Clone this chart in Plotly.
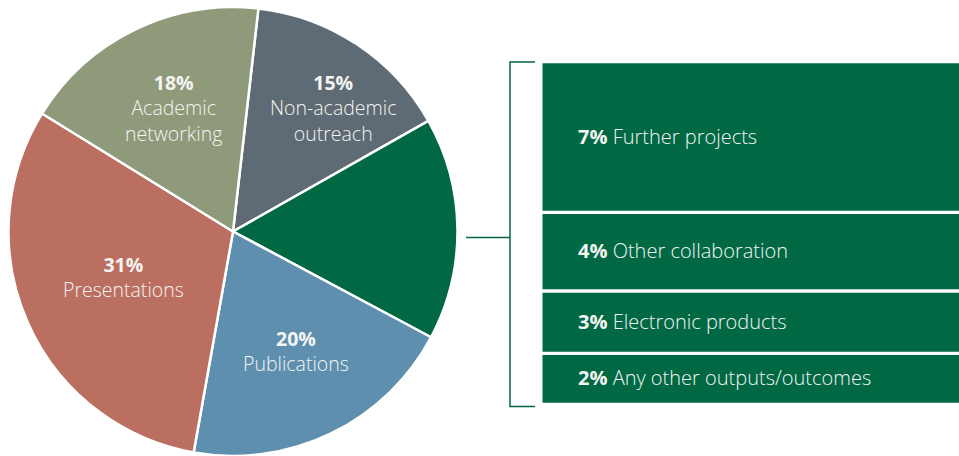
import plotly.graph_objects as go

# ---- data ----
slice_labels = ["Non-academic outreach", "Other outputs", "Publications", "Presentations", "Academic networking"]
slice_values = [15, 16, 20, 31, 18]
slice_colors = ["#5f6b74", "#006944", "#5e8fae", "#bb6f60", "#8e9a7a"]
slice_text = ["<b>15%</b><br>Non-academic<br>outreach", "", "<b>20%</b><br>Publications",
              "<b>31%</b><br>Presentations", "<b>18%</b><br>Academic<br>networking"]

sub_values = [7, 4, 3, 2]
sub_labels = ["Further projects", "Other collaboration", "Electronic products", "Any other outputs/outcomes"]

W, H = 959, 456
GREEN = "#006944"
FONT = "Open Sans"

def px(x):
    return x / W

def py(y):
    return 1 - y / H

fig = go.Figure()
fig.add_trace(go.Pie(
    labels=slice_labels, values=slice_values, sort=False, direction="clockwise",
    rotation=6.5, marker=dict(colors=slice_colors, line=dict(color="white", width=2.5)),
    textinfo="none", hoverinfo="label+percent", showlegend=False,
    domain=dict(x=[px(7.5), px(458.5)], y=[0, py(7)]),
))

# pie labels (positions in pixels of label block centres)
label_pos = [(333, 108), None, (296, 351), (123, 277), (173, 108)]
anns = []
for t, pos in zip(slice_text, label_pos):
    if pos is None:
        continue
    anns.append(dict(x=px(pos[0]), y=py(pos[1]), xref="paper", yref="paper",
                     text=t, showarrow=False, xanchor="center", yanchor="middle",
                     align="center", font=dict(family=FONT, size=19.5, color="#f4f4f2", weight=300)))

# right-hand boxes
box_rows = [(63.3, 210.7), (214, 289.3), (292.7, 351.7), (355, 402.7)]
shapes = []
for (y0, y1), v, lab in zip(box_rows, sub_values, sub_labels):
    shapes.append(dict(type="rect", xref="paper", yref="paper", x0=px(542.5), x1=1.01,
                       y0=py(y1), y1=py(y0), fillcolor=GREEN, line=dict(width=0), layer="below"))
    anns.append(dict(x=px(576), y=py((y0 + y1) / 2 - 1), xref="paper", yref="paper",
                     text=f"<b>{v}%</b> {lab}", showarrow=False, xanchor="left", yanchor="middle",
                     font=dict(family=FONT, size=20, color="#f4f4f2", weight=300)))

# bracket
bracket_path = (f"M {px(466)},{py(237.5)} L {px(510)},{py(237.5)} "
                f"M {px(535)},{py(62)} L {px(510)},{py(62)} L {px(510)},{py(406.5)} L {px(535)},{py(406.5)}")
shapes.append(dict(type="path", xref="paper", yref="paper", path=bracket_path,
                   line=dict(color=GREEN, width=1.5)))

fig.update_layout(
    width=W, height=H, margin=dict(l=0, r=0, t=0, b=0),
    paper_bgcolor="white", plot_bgcolor="white",
    shapes=shapes, annotations=anns,
    font=dict(family=FONT),
)

fig.write_html("out.html", config={"displayModeBar": False},
               post_script="document.body.style.margin='0';")
